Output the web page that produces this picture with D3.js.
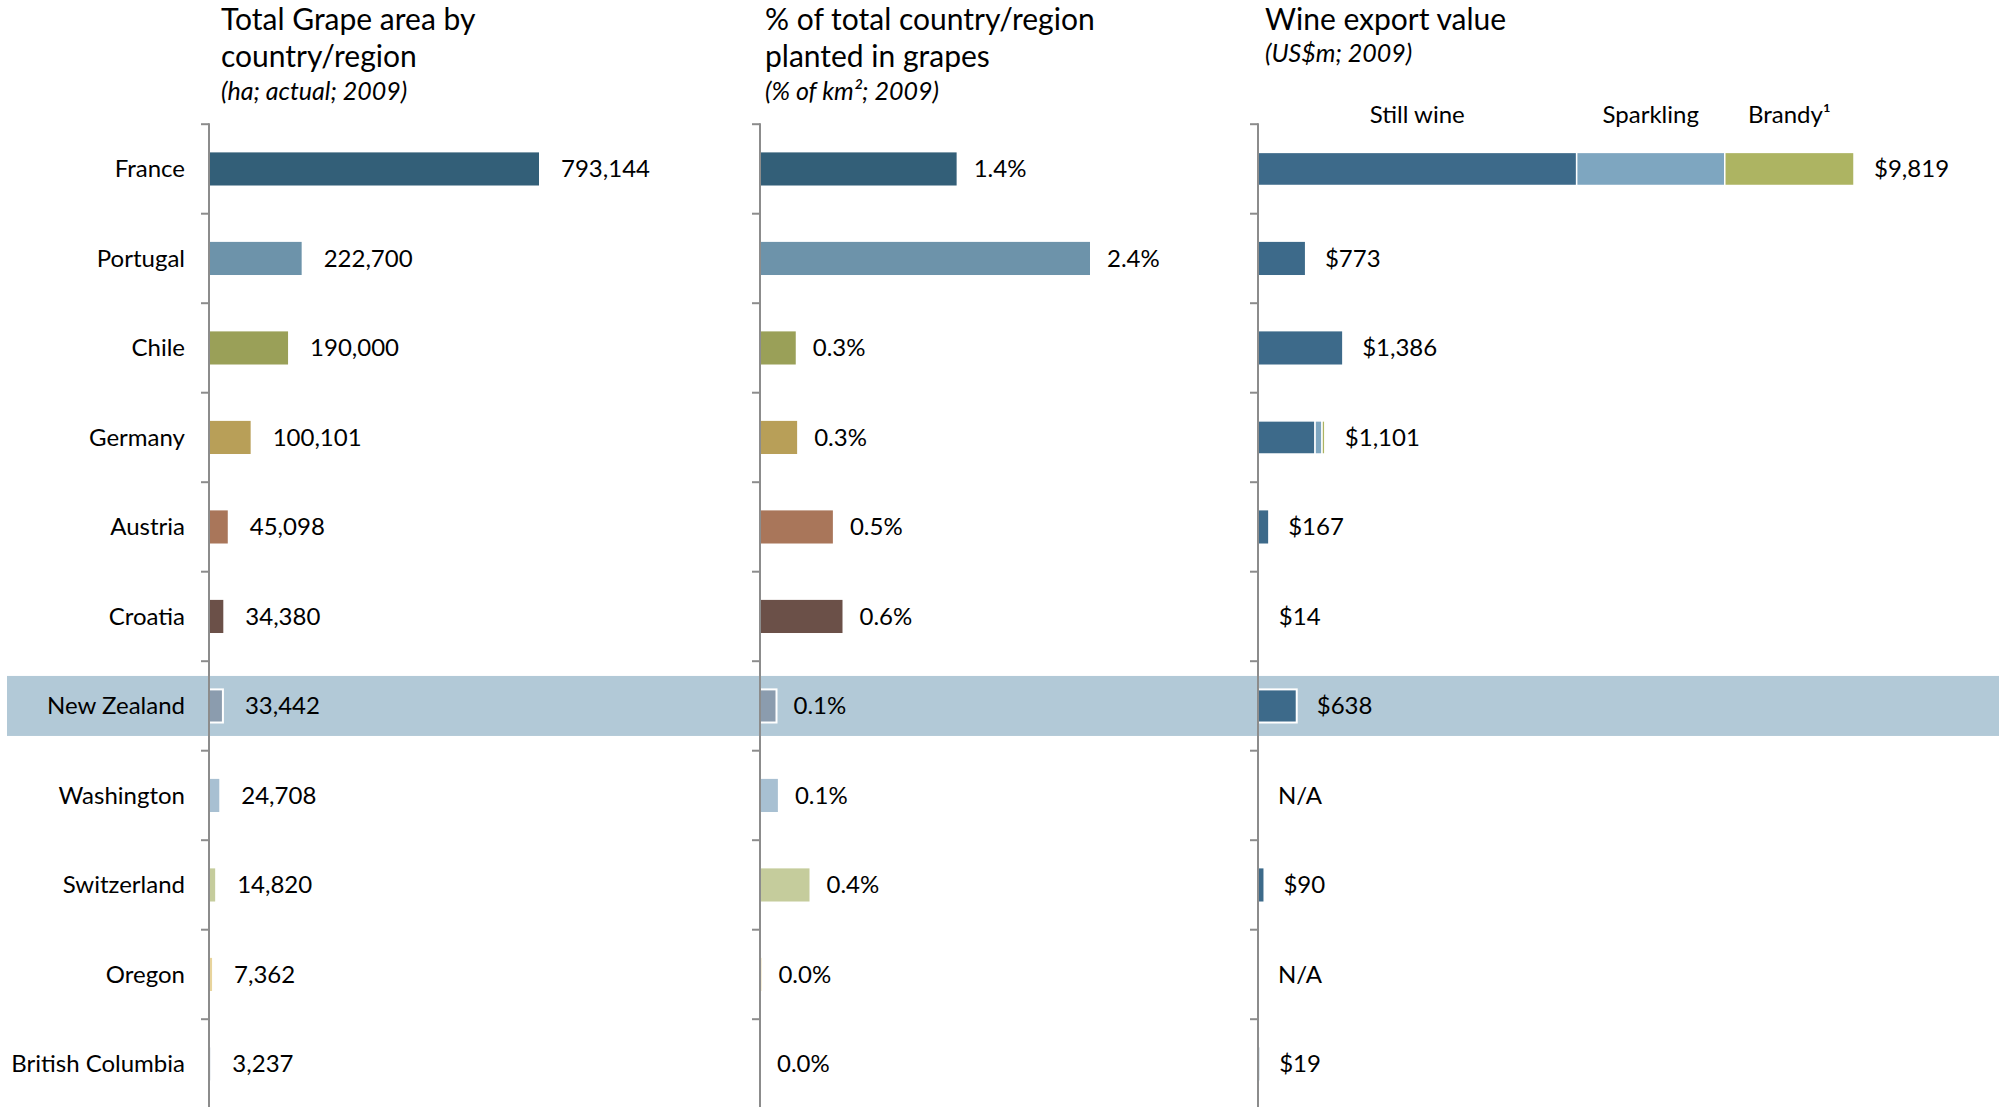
<!DOCTYPE html>
<html>
<head>
<meta charset="utf-8">
<script src="https://cdn.jsdelivr.net/npm/d3@7"></script>
<style>
  html, body { margin: 0; padding: 0; background: #fff; }
  svg { display: block; }
  text { font-family: Lato, "Noto Sans", sans-serif; fill: #000; }
</style>
</head>
<body>
<svg id="chart" width="1999" height="1107"></svg>
<script>
// Rows, top to bottom
const categories = ["France", "Portugal", "Chile", "Germany", "Austria", "Croatia",
  "New Zealand", "Washington", "Switzerland", "Oregon", "British Columbia"];

// Total grape area (ha, 2009)
const grapeArea = [793144, 222700, 190000, 100101, 45098, 34380, 33442, 24708, 14820, 7362, 3237];

// Share of land area planted in grapes (% of km², 2009)
const plantedShare = [1.43, 2.40, 0.26, 0.27, 0.53, 0.60, 0.12, 0.13, 0.36, 0.01, 0.00];

// Export value by product (US$m, 2009); null = not available
const stillWine = [5250, 773, 1386, 940, 167, 14, 638, null, 90, null, 19];
const sparkling = [2440, 0, 0, 115, 0, 0, 0, null, 0, null, 0];
const brandy    = [2129, 0, 0, 46, 0, 0, 0, null, 0, null, 0];

const exportProducts = ["Still wine", "Sparkling", "Brandy\u00B9"];

const rowColors = ["#335f78", "#6d93aa", "#9aa058", "#b89f58", "#a9765a", "#6b5048",
  "#8b9cae", "#a8c0d2", "#c5cc9c", "#e8d49c", "#cfd8e0"];
const productColors = ["#3d6a8a", "#7ea6c0", "#adb462"];

const highlightRow = "New Zealand";

const svg = d3.select("#chart");
const W = 1999, H = 1107;

const axisTop = 124.2, step = 89.5;
const rowsBottom = axisTop + step * categories.length;

// row bands: full rows for the tick marks, padded bands for the bars
const yRow = d3.scaleBand().domain(categories).range([axisTop, rowsBottom]).padding(0);
const yBar = d3.scaleBand().domain(categories).range([axisTop, rowsBottom])
  .paddingInner(0.63).paddingOuter(0.315);
const yMid = d => yBar(d) + yBar.bandwidth() / 2;

const labelSize = 24;

// highlight band behind the selected row
svg.append("rect")
  .attr("x", 7).attr("width", W - 7)
  .attr("y", yMid(highlightRow) - 30).attr("height", 60)
  .attr("fill", "#b2c9d7");

// category labels
svg.append("g").selectAll("text").data(categories).join("text")
  .attr("x", 185).attr("y", yMid)
  .attr("dy", "0.35em")
  .attr("text-anchor", "end")
  .attr("font-size", labelSize)
  .text(d => d);

function drawAxis(x0) {
  const g = svg.append("g").attr("class", "axis");
  const tickYs = categories.map(d => yRow(d)).concat([rowsBottom]);
  g.selectAll("line.tick").data(tickYs).join("line")
    .attr("x1", x0 - 8).attr("x2", x0)
    .attr("y1", d => d).attr("y2", d => d)
    .attr("stroke", "#8c8c8c").attr("stroke-width", 2);
  g.append("line")
    .attr("x1", x0).attr("x2", x0)
    .attr("y1", axisTop - 1).attr("y2", H)
    .attr("stroke", "#8c8c8c").attr("stroke-width", 2);
}

function drawTitle(x, lines, sub) {
  const g = svg.append("g");
  lines.forEach((t, i) => {
    g.append("text").attr("x", x).attr("y", 30 + i * 37)
      .attr("font-size", 30).text(t);
  });
  g.append("text").attr("x", x).attr("y", lines.length > 1 ? 100 : 62)
    .attr("font-size", 25).attr("font-style", "italic").text(sub);
}

// simple single-bar panel
function barPanel(x0, values, maxVal, maxWidth, fmt, gap) {
  const x = d3.scaleLinear().domain([0, maxVal]).range([x0, x0 + maxWidth]);
  const rows = categories.map((c, i) => ({ c, v: values[i], color: rowColors[i] }));
  const g = svg.append("g");
  g.selectAll("rect").data(rows).join("rect")
    .attr("x", x0)
    .attr("y", d => yBar(d.c))
    .attr("width", d => x(d.v) - x0)
    .attr("height", yBar.bandwidth())
    .attr("fill", d => d.color)
    .attr("stroke", d => d.c === highlightRow ? "#fff" : "none")
    .attr("stroke-width", 2);
  g.selectAll("text").data(rows).join("text")
    .attr("x", d => x(d.v) + gap)
    .attr("y", d => yMid(d.c))
    .attr("dy", "0.35em")
    .attr("font-size", labelSize)
    .text(d => fmt(d.v));
  drawAxis(x0);
}

// Panel 1: grape area
drawTitle(221, ["Total Grape area by", "country/region"], "(ha; actual; 2009)");
barPanel(209, grapeArea, 793144, 330, d3.format(","), 22);

// Panel 2: share planted
drawTitle(765, ["% of total country/region", "planted in grapes"], "(% of km\u00B2; 2009)");
barPanel(760, plantedShare, 2.4, 330, v => d3.format(".1f")(v) + "%", 17);

// Panel 3: export value, stacked by product
drawTitle(1265, ["Wine export value"], "(US$m; 2009)");
(function exportPanel() {
  const x0 = 1258;
  const x = d3.scaleLinear().domain([0, 9819]).range([x0, x0 + 596]);
  const rows = categories.map((c, i) => {
    const parts = [stillWine[i], sparkling[i], brandy[i]];
    return { c, parts, total: parts[0] === null ? null : d3.sum(parts) };
  });
  const stack = d3.stack().keys([0, 1, 2]).value((d, k) => d.parts[k] || 0);
  const series = stack(rows);
  const g = svg.append("g");
  g.selectAll("g.series").data(series).join("g")
    .attr("fill", s => productColors[s.key])
    .selectAll("rect").data(s => s).join("rect")
      .attr("x", d => x(d[0]))
      .attr("y", d => yBar(d.data.c))
      .attr("width", d => x(d[1]) - x(d[0]))
      .attr("height", yBar.bandwidth())
      .attr("stroke", d => (d[1] - d[0] > 0 && (d.data.c === highlightRow || d.data.parts[1] > 0)) ? "#fff" : "none")
      .attr("stroke-width", d => d.data.c === highlightRow ? 2 : 1.5);
  g.selectAll("text.value").data(rows).join("text")
    .attr("class", "value")
    .attr("x", d => x(d.total || 0) + 20)
    .attr("y", d => yMid(d.c))
    .attr("dy", "0.35em")
    .attr("font-size", labelSize)
    .text(d => d.total === null ? "N/A" : "$" + d3.format(",")(d.total));
  // product names centred over the first row's segments
  const first = series.map(s => s[0]);
  g.selectAll("text.product").data(first).join("text")
    .attr("class", "product")
    .attr("x", (d, i) => (x(d[0]) + x(d[1])) / 2)
    .attr("y", 123)
    .attr("text-anchor", "middle")
    .attr("font-size", labelSize)
    .text((d, i) => exportProducts[i]);
  drawAxis(x0);
})();
</script>
</body>
</html>
